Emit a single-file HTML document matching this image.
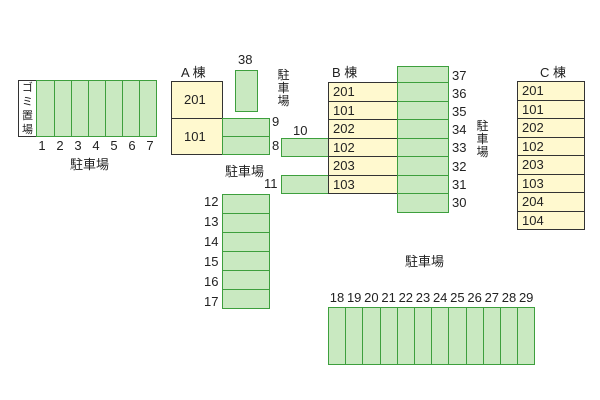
<!DOCTYPE html>
<html><head><meta charset="utf-8"><style>
body{margin:0;width:600px;height:400px;background:#fff;position:relative;overflow:hidden;font-family:"Liberation Sans","Noto Sans CJK JP",sans-serif;color:#222}
div{position:absolute;box-sizing:border-box}
.g{background:#c9e9c1;border:1px solid #3d9f3d}
.y{background:#fff9cf;border:1px solid #333;font-size:13px;padding-left:4px;line-height:17px}
.t{font-size:13px;line-height:14px;white-space:nowrap}
.n{font-size:13px;line-height:14px;width:18px;text-align:center}
.v{font-size:12px;line-height:13px;width:13px;text-align:center}
</style></head><body>
<div style="left:18px;top:80px;width:19px;height:57px;border:1px solid #333;background:#fff" class="v"><span style="font-size:11px;line-height:13px">ゴ<br>ミ<br>置<br>場</span></div>
<div class="g" style="left:36px;top:80px;width:19px;height:57px"></div>
<div class="g" style="left:54px;top:80px;width:19px;height:57px"></div>
<div class="g" style="left:71px;top:80px;width:19px;height:57px"></div>
<div class="g" style="left:88px;top:80px;width:19px;height:57px"></div>
<div class="g" style="left:105px;top:80px;width:19px;height:57px"></div>
<div class="g" style="left:122px;top:80px;width:19px;height:57px"></div>
<div class="g" style="left:139px;top:80px;width:18px;height:57px"></div>
<div class="n" style="left:33px;top:139px">1</div>
<div class="n" style="left:51px;top:139px">2</div>
<div class="n" style="left:69px;top:139px">3</div>
<div class="n" style="left:87px;top:139px">4</div>
<div class="n" style="left:105px;top:139px">5</div>
<div class="n" style="left:123px;top:139px">6</div>
<div class="n" style="left:141px;top:139px">7</div>
<div class="t" style="left:70px;top:158px">駐車場</div>
<div class="t" style="left:181px;top:66px">A 棟</div>
<div class="y" style="left:171px;top:81px;width:52px;height:38px;line-height:36px;padding-left:12px">201</div>
<div class="y" style="left:171px;top:118px;width:52px;height:37px;line-height:35px;padding-left:12px">101</div>
<div class="g" style="left:222px;top:118px;width:48px;height:19px"></div>
<div class="g" style="left:222px;top:136px;width:48px;height:19px"></div>
<div class="t" style="left:272px;top:115px">9</div>
<div class="t" style="left:272px;top:139px">8</div>
<div class="g" style="left:235px;top:70px;width:23px;height:42px"></div>
<div class="t" style="left:238px;top:53px">38</div>
<div class="v" style="left:277px;top:69px">駐<br>車<br>場</div>
<div class="t" style="left:293px;top:124px">10</div>
<div class="g" style="left:281px;top:138px;width:48px;height:19px"></div>
<div class="g" style="left:281px;top:175px;width:48px;height:19px"></div>
<div class="t" style="left:264px;top:177px">11</div>
<div class="t" style="left:225px;top:165px">駐車場</div>
<div class="g" style="left:222px;top:194px;width:48px;height:20px"></div>
<div class="g" style="left:222px;top:213px;width:48px;height:20px"></div>
<div class="g" style="left:222px;top:232px;width:48px;height:20px"></div>
<div class="g" style="left:222px;top:251px;width:48px;height:20px"></div>
<div class="g" style="left:222px;top:270px;width:48px;height:20px"></div>
<div class="g" style="left:222px;top:289px;width:48px;height:20px"></div>
<div class="t" style="left:204px;top:195px">12</div>
<div class="t" style="left:204px;top:215px">13</div>
<div class="t" style="left:204px;top:235px">14</div>
<div class="t" style="left:204px;top:255px">15</div>
<div class="t" style="left:204px;top:275px">16</div>
<div class="t" style="left:204px;top:295px">17</div>
<div class="t" style="left:332px;top:66px">B 棟</div>
<div class="y" style="left:328px;top:82px;width:70px;height:19.5px">201</div>
<div class="y" style="left:328px;top:100.5px;width:70px;height:19.5px">101</div>
<div class="y" style="left:328px;top:119px;width:70px;height:19.5px">202</div>
<div class="y" style="left:328px;top:137.5px;width:70px;height:19.5px">102</div>
<div class="y" style="left:328px;top:156px;width:70px;height:19.5px">203</div>
<div class="y" style="left:328px;top:174.5px;width:70px;height:19.5px">103</div>
<div class="g" style="left:397px;top:66px;width:52px;height:17px"></div>
<div class="g" style="left:397px;top:82px;width:52px;height:19.5px"></div>
<div class="g" style="left:397px;top:100.5px;width:52px;height:19.5px"></div>
<div class="g" style="left:397px;top:119px;width:52px;height:19.5px"></div>
<div class="g" style="left:397px;top:137.5px;width:52px;height:19.5px"></div>
<div class="g" style="left:397px;top:156px;width:52px;height:19.5px"></div>
<div class="g" style="left:397px;top:174.5px;width:52px;height:19.5px"></div>
<div class="g" style="left:397px;top:193px;width:52px;height:20px"></div>
<div class="t" style="left:452px;top:69px">37</div>
<div class="t" style="left:452px;top:87px">36</div>
<div class="t" style="left:452px;top:105px">35</div>
<div class="t" style="left:452px;top:123px">34</div>
<div class="t" style="left:452px;top:141px">33</div>
<div class="t" style="left:452px;top:160px">32</div>
<div class="t" style="left:452px;top:178px">31</div>
<div class="t" style="left:452px;top:196px">30</div>
<div class="v" style="left:476px;top:120px">駐<br>車<br>場</div>
<div class="t" style="left:540px;top:66px">C 棟</div>
<div class="y" style="left:517px;top:81px;width:68px;height:19.5px">201</div>
<div class="y" style="left:517px;top:99.5px;width:68px;height:19.5px">101</div>
<div class="y" style="left:517px;top:118px;width:68px;height:19.5px">202</div>
<div class="y" style="left:517px;top:136.5px;width:68px;height:19.5px">102</div>
<div class="y" style="left:517px;top:155px;width:68px;height:19.5px">203</div>
<div class="y" style="left:517px;top:173.5px;width:68px;height:19.5px">103</div>
<div class="y" style="left:517px;top:192px;width:68px;height:19.5px">204</div>
<div class="y" style="left:517px;top:210.5px;width:68px;height:19.5px">104</div>
<div class="t" style="left:405px;top:255px">駐車場</div>
<div class="n" style="left:328px;top:291px">18</div>
<div class="n" style="left:345.2px;top:291px">19</div>
<div class="n" style="left:362.4px;top:291px">20</div>
<div class="n" style="left:379.6px;top:291px">21</div>
<div class="n" style="left:396.8px;top:291px">22</div>
<div class="n" style="left:414px;top:291px">23</div>
<div class="n" style="left:431.2px;top:291px">24</div>
<div class="n" style="left:448.4px;top:291px">25</div>
<div class="n" style="left:465.6px;top:291px">26</div>
<div class="n" style="left:482.8px;top:291px">27</div>
<div class="n" style="left:500px;top:291px">28</div>
<div class="n" style="left:517.2px;top:291px">29</div>
<div class="g" style="left:328px;top:307px;width:18.2px;height:58px"></div>
<div class="g" style="left:345.2px;top:307px;width:18.2px;height:58px"></div>
<div class="g" style="left:362.4px;top:307px;width:18.2px;height:58px"></div>
<div class="g" style="left:379.6px;top:307px;width:18.2px;height:58px"></div>
<div class="g" style="left:396.8px;top:307px;width:18.2px;height:58px"></div>
<div class="g" style="left:414px;top:307px;width:18.2px;height:58px"></div>
<div class="g" style="left:431.2px;top:307px;width:18.2px;height:58px"></div>
<div class="g" style="left:448.4px;top:307px;width:18.2px;height:58px"></div>
<div class="g" style="left:465.6px;top:307px;width:18.2px;height:58px"></div>
<div class="g" style="left:482.8px;top:307px;width:18.2px;height:58px"></div>
<div class="g" style="left:500px;top:307px;width:18.2px;height:58px"></div>
<div class="g" style="left:517.2px;top:307px;width:17.8px;height:58px"></div>
</body></html>
